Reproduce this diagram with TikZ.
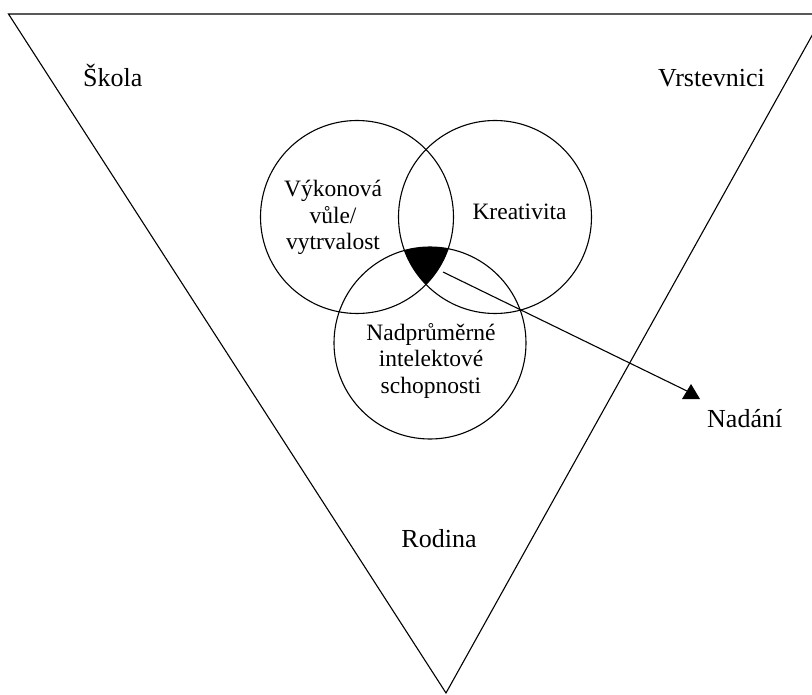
\documentclass[tikz,border=0pt]{standalone}
\usepackage{fontspec}
\setmainfont{Liberation Serif}
\begin{document}
\begin{tikzpicture}[x=1pt,y=-1pt,
  outline/.style={draw=black,line width=1.1pt},
  ring/.style={circle,draw=black,line width=1.1pt,inner sep=0pt},
  biglabel/.style={font=\fontsize{26}{31}\selectfont,inner sep=0pt},
  ringtext/.style={font=\fontsize{23.5}{26.5}\selectfont,inner sep=0pt,align=center}]
\useasboundingbox (0,0) rectangle (812,695);
\fill[white] (0,0) rectangle (812,695);
\begin{scope}
\clip (0,0) rectangle (812,695);
\coordinate (tl) at (8.5,14);
\coordinate (tr) at (824,14);
\coordinate (apex) at (446,693);
\draw[outline,line join=miter] (tl) -- (tr) -- (apex) -- cycle;
\end{scope}
% circles
\node[ring,minimum size=193pt] (will) at (357,217) {};
\node[ring,minimum size=193pt] (creat) at (495,217) {};
\node[ring,minimum size=192pt] (intel) at (430,343) {};
% triple intersection
\begin{scope}
\clip (357,217) circle (96.5);
\clip (495,217) circle (96.5);
\fill[black] (430,343) circle (96);
\end{scope}
% texts (base = baseline of last line)
\node[ringtext,anchor=base] (willtxt) at (333,250) {Výkonová\\vůle/\\vytrvalost};
\node[ringtext,anchor=base] (creattxt) at (519.5,220) {Kreativita};
\node[ringtext,anchor=base] (inteltxt) at (431,393) {Nadprůměrné\\intelektové\\schopnosti};
\node[biglabel,anchor=base west] (skola) at (83,87) {Škola};
\node[biglabel,anchor=base east] (vrst) at (765,87) {Vrstevnici};
\node[biglabel,anchor=base west] (nadani) at (707,427) {Nadání};
\node[biglabel,anchor=base] (rodina) at (439,547) {Rodina};
% arrow
\coordinate (core) at (443,272);
\coordinate (tip) at (687,391);
\draw[line width=1.1pt] (core) -- (tip);
\fill[black] (691,384) -- ++(-9,15) -- ++(18,0) -- cycle;
\end{tikzpicture}
\end{document}
